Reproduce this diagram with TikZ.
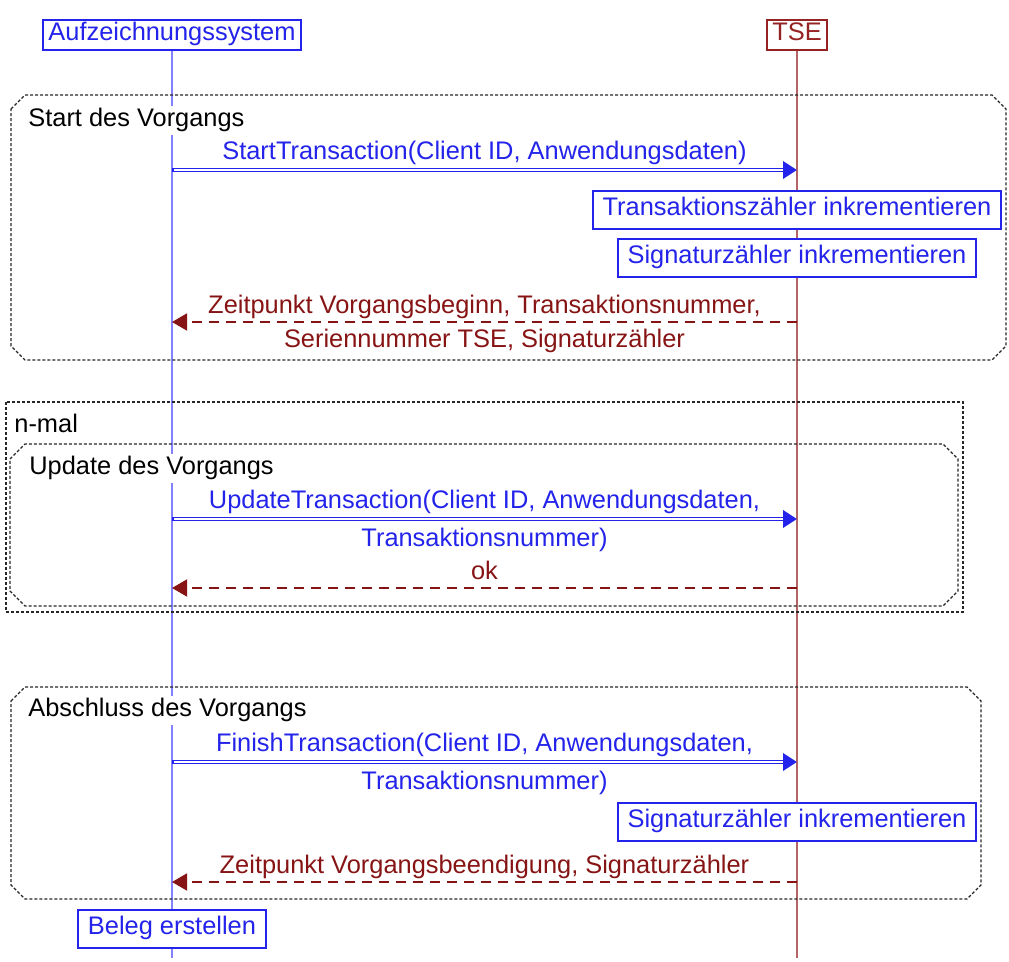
\documentclass[tikz,border=0pt]{standalone}
\usepackage{fontspec}
\setmainfont{Liberation Sans}
\usepackage{xcolor}
\usetikzlibrary{arrows.meta, positioning}
\definecolor{callblue}{RGB}{35,35,235}
\definecolor{replyred}{RGB}{135,20,20}
\definecolor{syslife}{RGB}{130,130,255}
\definecolor{tselife}{RGB}{180,100,100}
\definecolor{tsered}{RGB}{150,35,35}
\tikzset{
	lifehead/.style={draw, line width=1pt, fill=white, inner xsep=2.75pt, inner ysep=2.85pt, text height=0.75em, text depth=0.22em},
	action/.style={draw=callblue, text=callblue, line width=1pt, fill=white, inner xsep=5pt, inner ysep=4.6pt, text height=0.75em, text depth=0.22em},
	lifeline/.style={line width=1.3pt},
	fragment/.style={draw=black!85, line width=0.7pt, dash pattern=on 1.5pt off 1pt},
	fraglabel/.style={anchor=base west, fill=white, inner sep=1.5pt},
	call/.style={callblue, line width=2.2pt, -{Triangle[length=7pt, width=8.5pt]}},
	callgap/.style={draw=white, line width=0.8pt, shorten <=1pt, shorten >=7pt},
	reply/.style={replyred, line width=0.8pt, dash pattern=on 5pt off 3.5pt, -{Triangle[length=7.5pt, width=8.5pt]}},
	msgtop/.style={above, inner sep=1.7pt, text height=0.75em, text depth=0.22em},
	msgbot/.style={below, inner sep=5pt, text height=0.75em, text depth=0.22em}
}

\begin{document}
\begin{tikzpicture}[x=0.5pt, y=-0.5pt, font=\fontsize{12.7}{15.2}\selectfont]
	\useasboundingbox (0,0) rectangle (1009,962);
	
	% lifelines
	\node[lifehead, draw=callblue, text=callblue] (sys) at (172,35) {Aufzeichnungssystem};
	\node[lifehead, draw=tsered, text=tsered] (tse) at (797,35) {TSE};
	\coordinate (sysend) at (172,958);
	\coordinate (tseend) at (797,958);
	\draw[lifeline, syslife] (sys) -- (sysend);
	\draw[lifeline, tselife] (tse) -- (tseend);
	
	% fragments
	\draw[fragment] (11,109) -- (25,95) -- (992,95) -- (1006,109) -- (1006,346) -- (992,360) -- (25,360) -- (11,346) -- cycle;
	\draw[fragment] (6,402) rectangle (963,612);
	\draw[fragment] (10,459) -- (25,444) -- (943,444) -- (958,459) -- (958,591) -- (943,606) -- (25,606) -- (10,591) -- cycle;
	\draw[fragment] (11,701) -- (25,687) -- (967,687) -- (981,701) -- (981,885) -- (967,899) -- (25,899) -- (11,885) -- cycle;
	
	\node[fraglabel] (start) at (25,127) {Start des Vorgangs};
	\node[fraglabel] (nmal) at (11,433) {n-mal};
	\node[fraglabel] (update) at (26,475) {Update des Vorgangs};
	\node[fraglabel] (abschluss) at (25,717) {Abschluss des Vorgangs};
	
	% actions on the lifelines
	\node[action] (tzinc) at (797,210) {Transaktionszähler inkrementieren};
	\node[action, below=4pt of tzinc] (szinc) {Signaturzähler inkrementieren};
	\node[action] (szinc2) at (797,822) {Signaturzähler inkrementieren};
	\node[action] (beleg) at (172,929) {Beleg erstellen};
	
	% message ends
	\coordinate (s1) at (172,170); \coordinate (t1) at (797,170);
	\coordinate (s2) at (172,322); \coordinate (t2) at (797,322);
	\coordinate (s3) at (172,519); \coordinate (t3) at (797,519);
	\coordinate (s4) at (172,588); \coordinate (t4) at (797,588);
	\coordinate (s5) at (172,762); \coordinate (t5) at (797,762);
	\coordinate (s6) at (172,882); \coordinate (t6) at (797,882);
	
	\draw
	(s1) edge[call] node[msgtop]{StartTransaction(Client ID, Anwendungsdaten)} (t1)
	(s1) edge[callgap] (t1)
	(t2) edge[reply] node[msgtop]{Zeitpunkt Vorgangsbeginn, Transaktionsnummer,}
		node[msgbot]{Seriennummer TSE, Signaturzähler} (s2)
	
	(s3) edge[call] node[msgtop]{UpdateTransaction(Client ID, Anwendungsdaten,}
		node[msgbot]{Transaktionsnummer)} (t3)
	(s3) edge[callgap] (t3)
	(t4) edge[reply] node[msgtop]{ok} (s4)
	
	(s5) edge[call] node[msgtop]{FinishTransaction(Client ID, Anwendungsdaten,}
		node[msgbot]{Transaktionsnummer)} (t5)
	(s5) edge[callgap] (t5)
	(t6) edge[reply] node[msgtop]{Zeitpunkt Vorgangsbeendigung, Signaturzähler} (s6)
	;
\end{tikzpicture}
\end{document}
